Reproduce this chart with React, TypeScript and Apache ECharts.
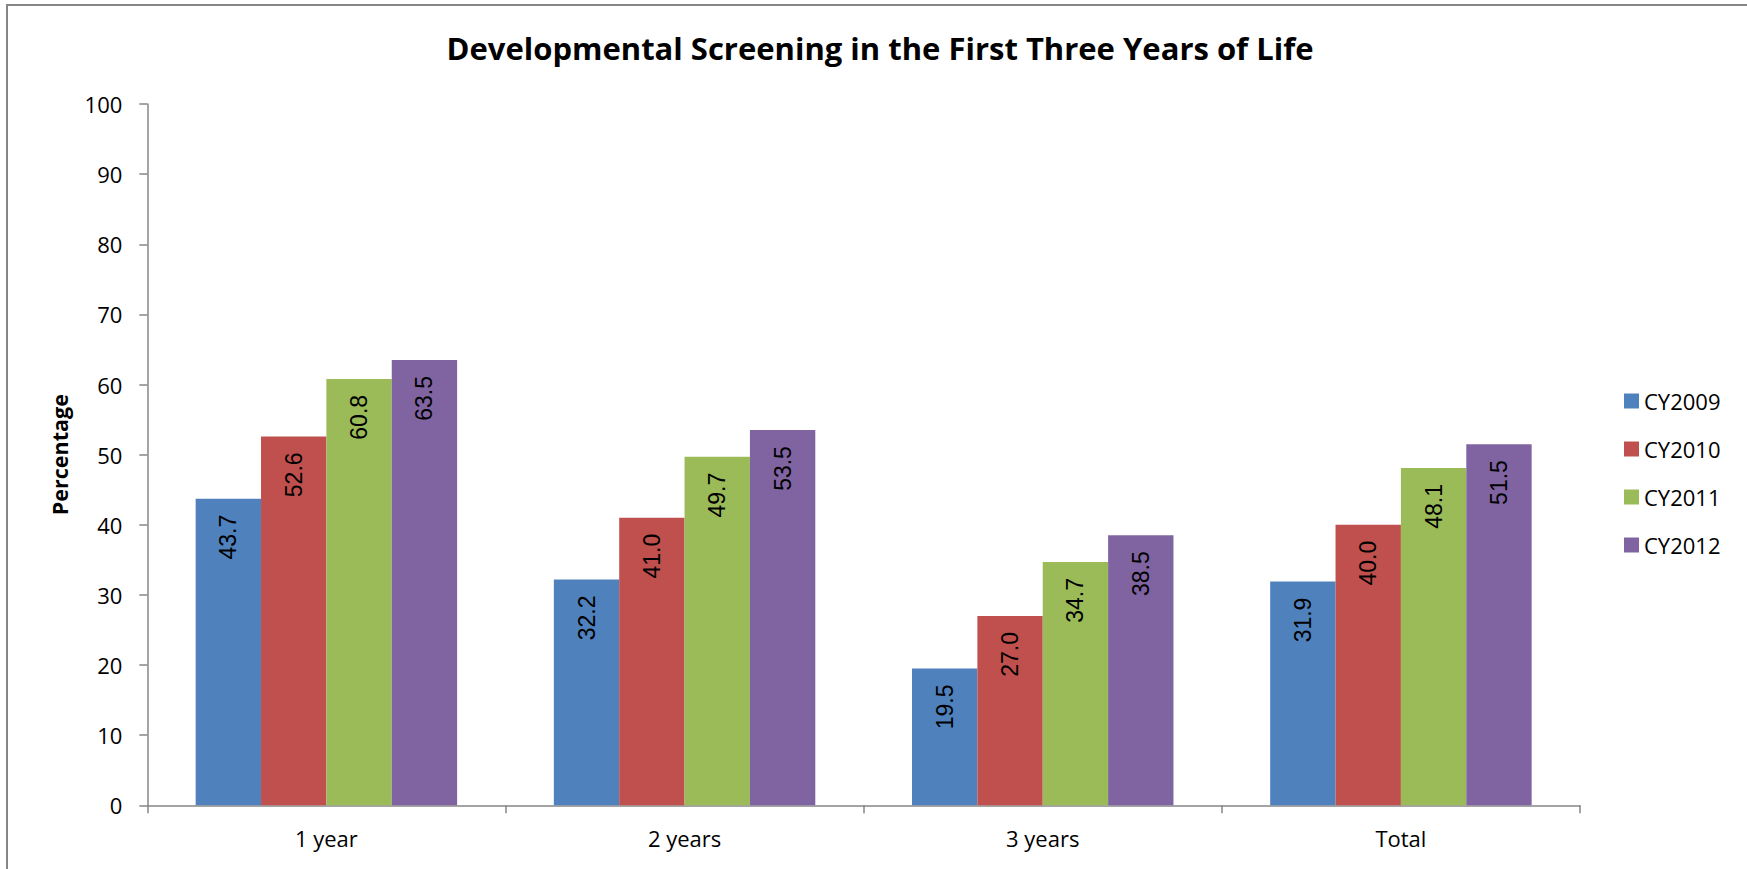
import React, { useEffect, useRef } from "react";
import * as echarts from "echarts";

const categories = ["1 year", "2 years", "3 years", "Total"];
const seriesNames = ["CY2009", "CY2010", "CY2011", "CY2012"];
const cy2009 = [43.7, 32.2, 19.5, 31.9];
const cy2010 = [52.6, 41.0, 27.0, 40.0];
const cy2011 = [60.8, 49.7, 34.7, 48.1];
const cy2012 = [63.5, 53.5, 38.5, 51.5];
const colors = ["#4F81BD", "#C0504D", "#9BBB59", "#8064A2"];

const titleText = "Developmental Screening in the First Three Years of Life";
const yAxisName = "Percentage";

export default function App() {
  const ref = useRef<HTMLDivElement>(null);
  useEffect(() => {
    document.body.style.margin = "0";
    const chart = echarts.init(ref.current!, null, { renderer: "svg" });
    const all = [cy2009, cy2010, cy2011, cy2012];
    const axisColor = "#868686";
    const font = "'Open Sans', Lato, sans-serif";
    chart.setOption({
      animation: false,
      backgroundColor: "#ffffff",
      title: {
        text: titleText,
        left: 880,
        textAlign: "center",
        top: 32,
        padding: 0,
        textStyle: {
          fontFamily: font,
          fontWeight: "bold",
          fontSize: 31,
          color: "#000",
        },
      },
      legend: {
        orient: "vertical",
        left: 1624,
        top: 390,
        padding: 0,
        itemWidth: 15,
        itemHeight: 15,
        itemGap: 26,
        icon: "rect",
        textStyle: {
          fontFamily: font,
          fontSize: 22,
          color: "#000",
          lineHeight: 22,
        },
        data: seriesNames,
      },
      graphic: [
        {
          type: "rect",
          shape: { x: 7, y: 5, width: 1800, height: 1000 },
          style: { fill: "none", stroke: "#868686", lineWidth: 2 },
          silent: true,
        },
      ],
      grid: { left: 147.3, right: 167, top: 104, bottom: 63.7 },
      xAxis: {
        type: "category",
        data: categories,
        axisLine: { lineStyle: { color: axisColor, width: 1.5 } },
        axisTick: { show: true, length: 8, alignWithLabel: false, lineStyle: { color: axisColor, width: 1.5 } },
        axisLabel: { fontFamily: font, fontSize: 22, color: "#000", margin: 22 },
        splitLine: { show: false },
      },
      yAxis: {
        type: "value",
        min: 0,
        max: 100,
        interval: 10,
        name: yAxisName,
        nameLocation: "middle",
        nameGap: 77,
        nameTextStyle: { fontFamily: font, fontWeight: "bold", fontSize: 21.5, color: "#000" },
        axisLine: { show: true, lineStyle: { color: axisColor, width: 1.5 } },
        axisTick: { show: true, length: 8, lineStyle: { color: axisColor, width: 1.5 } },
        axisLabel: { fontFamily: font, fontSize: 22, color: "#000", margin: 25 },
        splitLine: { show: false },
      },
      series: seriesNames.map((name, i) => ({
        name,
        type: "bar",
        data: all[i],
        barGap: "0%",
        barCategoryGap: "27%",
        itemStyle: { color: colors[i] },
        label: {
          show: true,
          position: "insideTop",
          rotate: 90,
          align: "right",
          verticalAlign: "middle",
          distance: 16,
          formatter: (p: any) => Number(p.value).toFixed(1),
          fontFamily: "'Liberation Sans', Arial, sans-serif",
          fontSize: 23,
          color: "#000",
        },
      })),
    });
    return () => chart.dispose();
  }, []);
  return (
    <div
      ref={ref}
      style={{ position: "fixed", left: 0, top: 0, width: 1747, height: 869 }}
    />
  );
}
